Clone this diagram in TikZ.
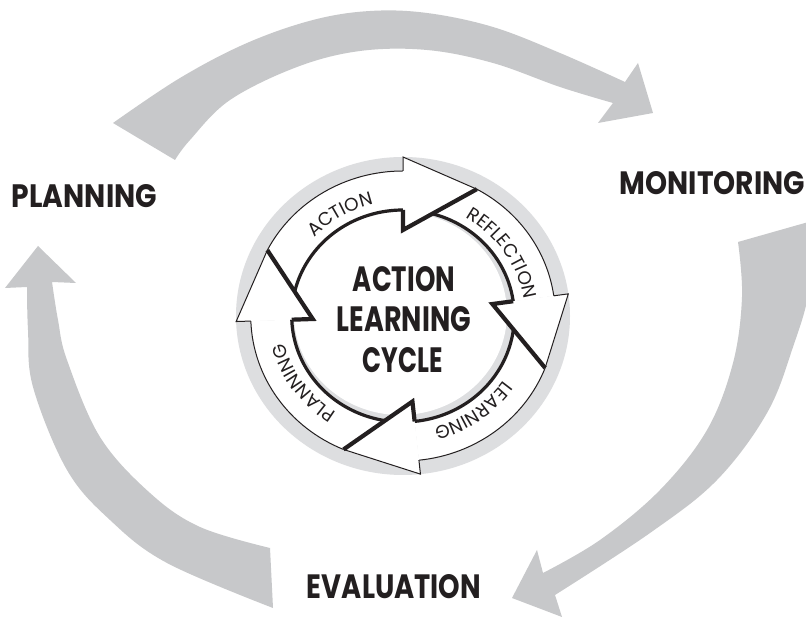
\documentclass[tikz,border=0pt]{standalone}
\usepackage{fontspec}
\usetikzlibrary{decorations.text}
\newfontfamily\popfam{Poppins}
\definecolor{bigarrow}{RGB}{199,200,202}
\definecolor{diskgray}{RGB}{221,222,224}
\definecolor{inkblack}{RGB}{35,31,32}
\newcommand{\ringfont}{\popfam\fontsize{18.5}{18.5}\selectfont}
\newcommand{\bigtxt}[3]{\resizebox{#1pt}{#2pt}{\popfam\bfseries #3}}
\tikzset{
  bigshape/.style={fill=bigarrow},
  thinedge/.style={draw=inkblack, line width=1pt, line join=miter},
  thickedge/.style={draw=inkblack, line width=3.2pt, line join=miter},
  headedge/.style={draw=inkblack, line width=4.2pt, line join=miter},
  label/.style={inner sep=0pt, outer sep=0pt, text=inkblack},
  ringtext/.style={decorate, decoration={text along path, text align=center, text color=inkblack}}
}
\begin{document}
\begin{tikzpicture}[x=1pt,y=1pt]
\useasboundingbox (0,0) rectangle (806,617);
\clip (0,0) rectangle (806,617);
\fill[white] (0,0) rectangle (806,617);

% top big arrow: PLANNING -> MONITORING
\path[bigshape] plot[smooth,tension=0.6] coordinates {(113,494) (180,539) (247,574) (313,597) (370,606) (427,604) (493,590) (560,564) (625,535)}
  -- (638,554) -- (653,504) -- (598,494)
  -- plot[smooth,tension=0.6] coordinates {(613,514) (560,530) (493,554) (427,567) (360,566) (297,550) (230,517) (190,477) (175,457)} -- cycle;

% right big arrow: MONITORING -> EVALUATION
\path[bigshape] plot[smooth,tension=0.6] coordinates {(738,375) (742,320) (733,254) (707,187) (660,127) (600,77) (543,44)}
  -- (537,67) -- (512,19) -- (562,0)
  -- plot[smooth,tension=0.6] coordinates {(555,22) (650,84) (717,137) (767,204) (793,270) (809,327) (812,396)} -- cycle;

% left big arrow: EVALUATION -> PLANNING
\path[bigshape] plot[smooth,tension=0.6] coordinates {(273,9) (167,54) (110,97) (67,147) (33,230) (28,287) (27,330)}
  -- (5,329) -- (38,371) -- (76,334)
  -- plot[smooth,tension=0.6] coordinates {(52,335) (58,297) (67,257) (100,180) (150,124) (200,90) (270,69)} -- cycle;

% central action learning cycle
\begin{scope}[shift={(403,301)}]
  \fill[diskgray] (0,0) ellipse [x radius=167, y radius=159];
  \begin{scope}[xscale=1.05]
    \fill[diskgray] (0,0) circle (106);
    \fill[white] (-2.5,2.5) circle (101.5);
    % arrow bodies
    \foreach \s/\e/\tp in {182/90/153, 90/8/61, 8/-84/-21, -84/-178/-113} {
      \fill[white] (\s:145) arc[start angle=\s, end angle=\e, radius=145] -- (\e:106) arc[start angle=\e, end angle=\s, radius=106] -- cycle;
      \draw[thinedge] (\tp:145) arc[start angle=\tp, end angle=\e, radius=145];
      \draw[thickedge] (\s:106) arc[start angle=\s, end angle=\e, radius=106];
    }
    % arrow heads
    \foreach \e in {90,8,-84,182} {
      \pgfmathsetmacro\tipang{\e-29}
      \fill[white] (\e:145) -- (\e:159) -- (\tipang:145) -- (\e:86) -- (\e:106) -- cycle;
      \draw[thinedge] (\e:145) -- (\e:159) -- (\tipang:145);
      \draw[headedge] (\tipang:145) -- (\e:86) -- (\e:106);
    }
  \end{scope}
  % ring labels
  \path[ringtext, decoration={text={|\ringfont|ACTION}}] (166:121.8 and 115) arc[start angle=166, end angle=76, x radius=121.8, y radius=115];
  \path[ringtext, decoration={text={|\ringfont|REFLECTION}}] (83:121.8 and 115) arc[start angle=83, end angle=-17, x radius=121.8, y radius=115];
  \path[ringtext, decoration={text={|\ringfont|LEARNING}}] (-4:121.8 and 115) arc[start angle=-4, end angle=-104, x radius=121.8, y radius=115];
  \path[ringtext, decoration={text={|\ringfont|PLANNING}}] (264.5:121.8 and 115) arc[start angle=264.5, end angle=164.5, x radius=121.8, y radius=115];
\end{scope}

% labels
\node[label] (title1) at (404,337.5) {\bigtxt{102}{25}{ACTION}};
\node[label] (title2) at (404,297.5) {\bigtxt{134}{25}{LEARNING}};
\node[label] (title3) at (403,257) {\bigtxt{80}{25}{CYCLE}};
\node[label] (planning) at (84.5,420.5) {\bigtxt{145}{23}{PLANNING}};
\node[label] (monitoring) at (712.5,433.5) {\bigtxt{185}{23}{MONITORING}};
\node[label] (evaluation) at (394,30) {\bigtxt{174}{24}{EVALUATION}};
\end{tikzpicture}
\end{document}
